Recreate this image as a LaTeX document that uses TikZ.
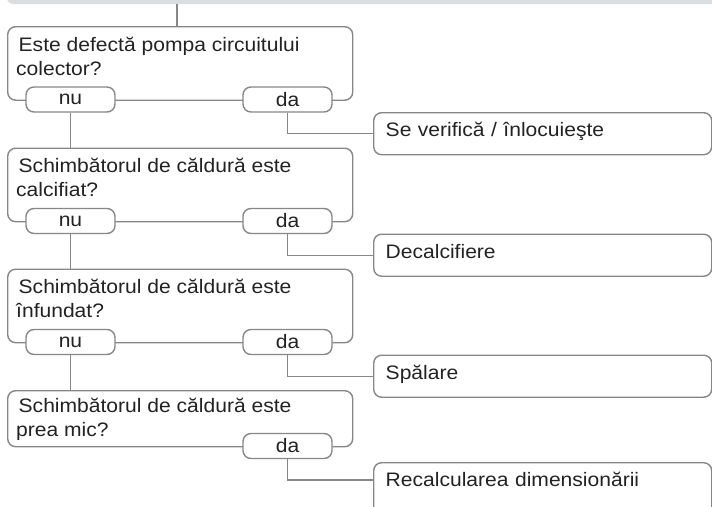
\documentclass[tikz,border=0pt]{standalone}
\usepackage{fontspec}
\setmainfont{Liberation Sans}[FakeStretch=1.08]
\usetikzlibrary{positioning,calc}
\definecolor{edgegray}{HTML}{878787}
\definecolor{bandgray}{HTML}{DCDDDF}
\definecolor{inkblack}{HTML}{222222}

\begin{document}
\begin{tikzpicture}[
    x=1pt, y=-1pt,
    font=\fontsize{19.5pt}{24pt}\selectfont,
    text=inkblack,
    qbox/.style={draw=edgegray, line width=1.4pt, rounded corners=8pt, anchor=north west, minimum width=345pt, inner sep=0pt},
    qtext/.style={anchor=north west, align=left, inner sep=0pt},
    pill/.style={draw=edgegray, line width=1.4pt, fill=white, rounded corners=8pt, minimum width=89pt, minimum height=25pt, inner sep=0pt},
    answer/.style={draw=edgegray, line width=1.4pt, rounded corners=8pt, anchor=north west, text width=314pt, align=left, inner xsep=12pt, inner ysep=10pt, text height=14pt, text depth=8pt},
    link/.style={draw=edgegray, line width=1.4pt},
]
    \useasboundingbox (0,0) rectangle (712,506);
    \clip (0,0) rectangle (712,506);

    % --- Previous step (cut off at the top) ---
    \fill[bandgray, rounded corners=6pt] (7,-30) rectangle (740,4);
    \coordinate (top) at (177,4);

    % --- Question boxes ---
    \node[qbox, minimum height=73.5pt] (q1) at (7,26) {};
    \node[qbox, minimum height=73.5pt] (q2) at (7,147.5) {};
    \node[qbox, minimum height=73.5pt] (q3) at (7,268.5) {};
    \node[qbox, minimum height=56pt] (q4) at (7,390) {};

    \node[qtext] (t1) at ([xshift=9pt, yshift=-10.5pt]q1.north west) {\hspace{2.5pt}Este defectă pompa circuitului\\colector?};
    \node[qtext] (t2) at ([xshift=9pt, yshift=-10.5pt]q2.north west) {\hspace{2.5pt}Schimbătorul de căldură este\\calcifiat?};
    \node[qtext] (t3) at ([xshift=9pt, yshift=-10.5pt]q3.north west) {\hspace{2.5pt}Schimbătorul de căldură este\\înfundat?};
    \node[qtext] (t4) at ([xshift=9pt, yshift=-7.5pt]q4.north west) {\hspace{2.5pt}Schimbătorul de căldură este\\prea mic?};

    % --- Answer pills ---
    \node[pill] (nu1) at (70.5,99.5) {nu};
    \node[pill] (da1) at (287.5,99.5) {da};
    \node[pill] (nu2) at (70.5,221) {nu};
    \node[pill] (da2) at (287.5,221) {da};
    \node[pill] (nu3) at (70.5,342) {nu};
    \node[pill] (da3) at (287.5,342) {da};
    \node[pill] (da4) at (287.5,446) {da};

    % --- Actions ---
    \node[answer] (a1) at (373,112) {Se verifică / înlocuieşte};
    \node[answer] (a2) at (373,233.5) {Decalcifiere};
    \node[answer] (a3) at (373,354.5) {Spălare};
    \node[answer, text depth=40pt] (a4) at (373,462) {Recalcularea dimensionării};
    \coordinate (a4in) at ([yshift=-18pt]a4.north west);

    % --- Connectors ---
    \draw[link] (top) -- (top |- q1.north);
    \draw[link] (nu1.south) -- (nu1.south |- q2.north);
    \draw[link] (nu2.south) -- (nu2.south |- q3.north);
    \draw[link] (nu3.south) -- (nu3.south |- q4.north);

    \draw[link] (da1.south) |- (a1.west);
    \draw[link] (da2.south) |- (a2.west);
    \draw[link] (da3.south) |- (a3.west);
    \draw[link] (da4.south) |- (a4in);

\end{tikzpicture}
\end{document}
